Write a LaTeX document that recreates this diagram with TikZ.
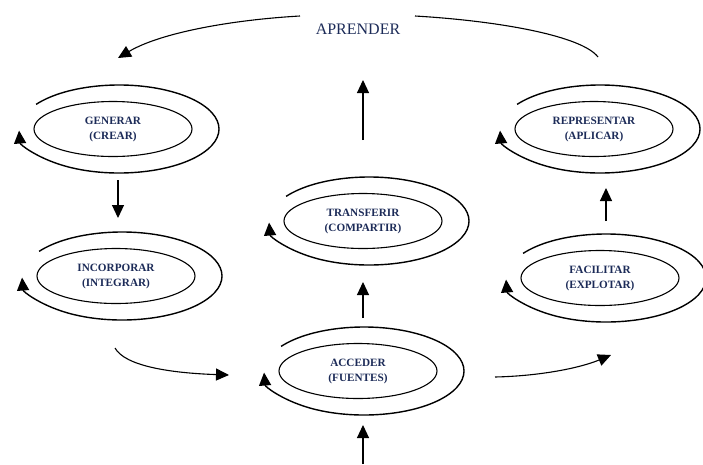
\documentclass[tikz,border=0pt]{standalone}
\usepackage{fontspec}
\setmainfont{Liberation Serif}
\usetikzlibrary{arrows.meta,calc,shapes.geometric}
\definecolor{txt}{HTML}{1C2B58}
\newcommand\elemgroup[4]{%
  \node[innerell] (#1) at (#2,#3) {#4};
  \draw[outerarc] ($(#1.center)+(6pt,0pt)+(146:100pt and 44pt)$)
    arc[start angle=146, end angle=-178, x radius=100pt, y radius=44pt];
}
\begin{document}
\begin{tikzpicture}[x=1pt,y=-1pt,
  innerell/.style={draw, ellipse, minimum width=158pt, minimum height=55pt,
    inner sep=0pt, align=center, font=\bfseries\fontsize{11.2}{15}\selectfont,
    text=txt, line width=1.1pt},
  outerarc/.style={draw, line width=1.4pt, -{Triangle[length=13pt,width=12pt]}},
  conn/.style={draw, line width=1.1pt, -{Triangle[length=13pt,width=12pt]}},
  plain/.style={draw, line width=1.1pt},
  title/.style={font=\fontsize{16}{19}\selectfont, text=txt}
]
\useasboundingbox (0,0) rectangle (703,464);

\node[title] (apr) at (358,29) {APRENDER};

\elemgroup{gen}{113}{129}{GENERAR\\(CREAR)}
\elemgroup{rep}{594}{129}{REPRESENTAR\\(APLICAR)}
\elemgroup{tra}{363}{221}{TRANSFERIR\\(COMPARTIR)}
\elemgroup{inc}{116}{276}{INCORPORAR\\(INTEGRAR)}
\elemgroup{fac}{600}{278}{FACILITAR\\(EXPLOTAR)}
\elemgroup{acc}{358}{371}{ACCEDER\\(FUENTES)}

% named connector ends
\coordinate (tl0) at (300,16);  \coordinate (tl1) at (118,58);
\coordinate (tr0) at (415,16);  \coordinate (tr1) at (598,57);
\coordinate (up0) at (363,140); \coordinate (up1) at (363,80);
\coordinate (gi0) at (118,180); \coordinate (gi1) at (118,218);
\coordinate (fr0) at (606,221); \coordinate (fr1) at (606,188);
\coordinate (at0) at (363,318); \coordinate (at1) at (363,282);
\coordinate (bt0) at (363,464); \coordinate (bt1) at (363,425);
\coordinate (ia0) at (115,348); \coordinate (ia1) at (229,375);
\coordinate (af0) at (495,377); \coordinate (af1) at (611,355);

\draw[conn] (tl0) .. controls (230,20) and (160,33) .. (tl1);
\draw[plain] (tr0) .. controls (500,21) and (582,36) .. (tr1);
\draw[conn] (up0) -- (up1);
\draw[conn] (gi0) -- (gi1);
\draw[conn] (fr0) -- (fr1);
\draw[conn] (at0) -- (at1);
\draw[conn] (bt0) -- (bt1);
\draw[conn] (ia0) .. controls (125,366) and (170,373) .. (ia1);
\draw[conn] (af0) .. controls (540,376) and (580,368) .. (af1);
\end{tikzpicture}
\end{document}
